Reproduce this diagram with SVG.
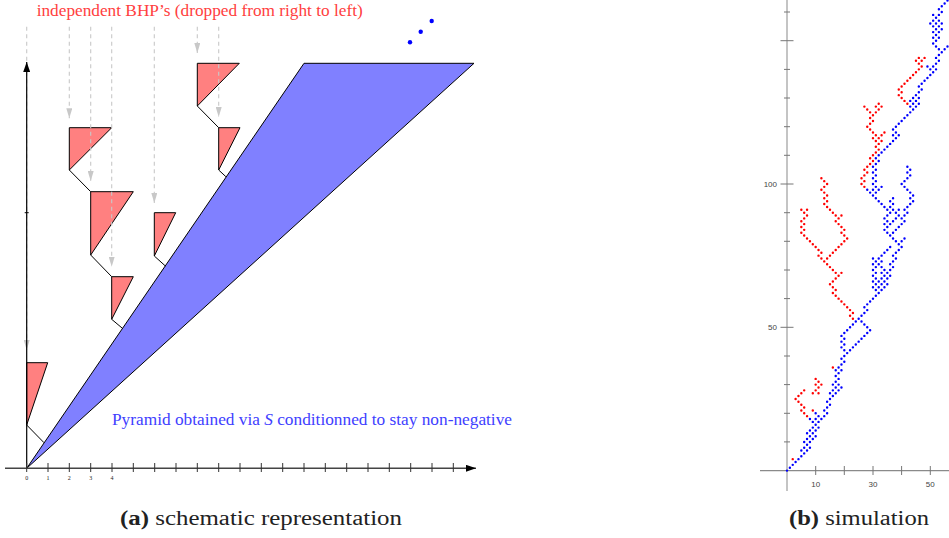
<svg xmlns="http://www.w3.org/2000/svg" width="949" height="538" viewBox="0 0 949 538">
<defs>
<style>
.tri{fill:#ff8080;stroke:#000;stroke-width:1;stroke-linejoin:round}
.pyr{fill:#8080ff;stroke:#000;stroke-width:1;stroke-linejoin:round}
.blk{stroke:#000;stroke-width:1;fill:none}
.dash{stroke:#c8c8c8;stroke-width:1.1;stroke-dasharray:4 3.5;fill:none}
.tick{stroke:#333;stroke-width:1}
.lbl{font-family:"Liberation Serif",serif;font-size:6px;fill:#222;text-anchor:middle}
.sl{font-family:"Liberation Sans","DejaVu Sans",sans-serif;font-size:8px;fill:#444}
.serif{font-family:"Liberation Serif","DejaVu Serif",serif}
.cap{font-family:"Liberation Serif","DejaVu Serif",serif;font-size:20px;fill:#222}
.dots{fill:none;stroke-linecap:round;stroke-width:0.85}
</style>
<marker id="garr" viewBox="0 0 10 10" refX="10" refY="5" markerUnits="userSpaceOnUse" markerWidth="10" markerHeight="6" orient="auto" preserveAspectRatio="none">
<path d="M0,0L10,5L0,10z" fill="#c8c8c8"/>
</marker>
<marker id="karr" viewBox="0 0 10 10" refX="10" refY="5" markerUnits="userSpaceOnUse" markerWidth="10" markerHeight="7" orient="auto" preserveAspectRatio="none">
<path d="M0,0L10,5L0,10z" fill="#000"/>
</marker>
</defs>
<rect width="949" height="538" fill="#fff"/>

<!-- (a) schematic -->
<g id="pyramid"><polygon class="pyr" points="26.7,468.3 304,63.3 474,63.3"/></g>
<g id="bhp1"><polygon class="tri" points="26.7,362.7 47.7,362.7 26.7,425"/></g>
<g id="bhp2"><polygon class="tri" points="69.3,127.7 111.7,127.7 69.3,170"/></g>
<g id="bhp3"><polygon class="tri" points="90.7,191.7 133.3,191.7 90.7,255"/></g>
<g id="bhp4"><polygon class="tri" points="111.7,276.7 133.3,276.7 111.7,319.3"/></g>
<g id="bhp5"><polygon class="tri" points="154.3,212.7 175.7,212.7 154.3,256"/></g>
<g id="bhp6"><polygon class="tri" points="197.3,63.3 239.3,63.3 197.3,106"/></g>
<g id="bhp7"><polygon class="tri" points="218.7,127.7 240,127.7 218.7,170"/></g>

<g id="connectors">
<path class="blk" d="M26.7,425L44,442.7M69.3,170L90.7,191.7M90.7,255L111.7,276.7M111.7,319.3L122.4,328.3M154.3,256L165.4,266M197.3,106L218.7,127.7M218.7,170L225.9,176.7"/>
<g class="dash" marker-end="url(#garr)">
<line x1="26.7" y1="26.7" x2="26.7" y2="350"/>
<line x1="69.3" y1="26.7" x2="69.3" y2="118.3"/>
<line x1="90.7" y1="26.7" x2="90.7" y2="181"/>
<line x1="111.7" y1="26.7" x2="111.7" y2="266.7"/>
<line x1="154.3" y1="26.7" x2="154.3" y2="203"/>
<line x1="197.3" y1="26.7" x2="197.3" y2="53"/>
<line x1="218.7" y1="26.7" x2="218.7" y2="117"/>
</g>
</g>

<g id="axes-a">
<line x1="26.7" y1="468.3" x2="26.7" y2="62" stroke="#000" stroke-width="1.2" marker-end="url(#karr)"/>
<line x1="24.7" y1="212.7" x2="28.7" y2="212.7" stroke="#000" stroke-width="1"/>
<line x1="5" y1="468.3" x2="476" y2="468.3" stroke="#444" stroke-width="1.4" marker-end="url(#karr)"/>
<path class="tick" d="M26.7,463v9M48,463v9M69.3,463v9M90.7,463v9M112,463v9M133.3,463v9M154.7,463v9M176,463v9M197.3,463v9M218.7,463v9M240,463v9M261.3,463v9M282.7,463v9M304,463v9M325.3,463v9M346.7,463v9M368,463v9M389.3,463v9M410.7,463v9M432,463v9M453.3,463v9"/>
<text class="lbl" x="26.7" y="480">0</text>
<text class="lbl" x="48" y="480">1</text>
<text class="lbl" x="69.3" y="480">2</text>
<text class="lbl" x="90.7" y="480">3</text>
<text class="lbl" x="112" y="480">4</text>
</g>

<g id="ellipsis" fill="#0000ff">
<circle cx="410" cy="42.3" r="2.2"/><circle cx="420.7" cy="31.7" r="2.2"/><circle cx="431.7" cy="21" r="2.2"/>
</g>

<text class="serif" x="36.7" y="16" font-size="16" fill="#ff4040" textLength="326" lengthAdjust="spacingAndGlyphs">independent BHP’s (dropped from right to left)</text>
<text class="serif" x="112" y="425" font-size="16" fill="#4040ff" textLength="400" lengthAdjust="spacingAndGlyphs">Pyramid obtained via <tspan font-style="italic">S</tspan> conditionned to stay non-negative</text>

<text class="cap" x="120" y="525" textLength="282" lengthAdjust="spacingAndGlyphs"><tspan font-weight="bold">(a)</tspan> schematic representation</text>

<!-- (b) simulation -->
<g id="axes-b">
<line x1="787" y1="0" x2="787" y2="491" stroke="#c4c4c4" stroke-width="2"/>
<line x1="760" y1="470.6" x2="949" y2="470.6" stroke="#8a8a8a" stroke-width="1.3"/>
<path stroke="#777" stroke-width="1" d="M784,441.9h6M784,413.3h6M784,384.6h6M784,356h6M780.5,327.3h13M784,298.6h6M784,270h6M784,241.3h6M784,212.7h6M780.5,184h13M784,155.3h6M784,126.7h6M784,98h6M784,69.4h6M780.5,40.7h13M784,12h6"/>
<path stroke="#777" stroke-width="1" d="M815.7,466v9M844.3,466v9M873,466v9M901.6,466v9M930.3,466v9"/>
<text class="sl" x="777" y="187" text-anchor="end">100</text>
<text class="sl" x="777" y="330" text-anchor="end">50</text>
<text class="sl" x="815.7" y="487" text-anchor="middle">10</text>
<text class="sl" x="873" y="487" text-anchor="middle">30</text>
<text class="sl" x="930.3" y="487" text-anchor="middle">50</text>
</g>

<g id="simulation" transform="translate(787,470.6) scale(2.866,-2.866)">
<path class="dots" stroke="#0000ff" d="M0 0h0M1 1h0M2 2h0M3 3h0M4 4h0M5 5h0M6 6h0M5 7h0M6 8h0M7 9h0M6 10h0M7 11h0M8 12h0M7 13h0M8 14h0M9 15h0M10 16h0M11 17h0M12 18h0M7 7h0M8 8h0M8 10h0M9 11h0M10 12h0M9 13h0M10 14h0M11 15h0M9 17h0M8 18h0M10 18h0M11 19h0M10 20h0
M13 19h0M14 20h0M13 21h0M14 22h0M15 23h0M14 24h0M15 25h0M16 26h0M15 27h0M16 28h0M17 29h0M16 30h0M17 31h0M18 32h0M17 33h0M18 34h0M19 35h0M18 36h0M19 37h0M20 38h0M19 39h0M20 40h0M21 41h0
M17 27h0M18 28h0M19 29h0M18 30h0M17 35h0
M20 42h0M19 43h0M20 44h0M19 45h0M20 46h0M19 47h0M20 48h0M21 49h0M22 50h0M23 51h0M24 52h0M25 53h0
M22 42h0M23 43h0M24 44h0M25 45h0M26 46h0M27 47h0M28 48h0M29 49h0M28 50h0M27 51h0M26 52h0
M26 54h0M27 55h0M28 56h0M27 57h0M28 58h0M29 59h0M30 60h0M31 61h0M32 62h0
M31 63h0M30 64h0M31 65h0M30 66h0M31 67h0M30 68h0M31 69h0M30 70h0M31 71h0M30 72h0M31 73h0M30 74h0
M33 63h0M32 64h0M33 65h0M32 66h0M33 67h0M34 68h0M33 69h0M34 70h0M33 71h0M32 72h0M33 73h0M32 74h0M33 75h0M34 76h0M35 77h0M36 78h0
M34 64h0M35 65h0M34 66h0M35 67h0M36 68h0M35 69h0M36 70h0M37 71h0M36 72h0M37 73h0
M38 74h0M37 75h0M38 76h0M39 77h0M40 78h0M39 79h0
M38 80h0M37 81h0M36 82h0M35 83h0M34 84h0M35 85h0M34 86h0M35 87h0M34 88h0M35 89h0M36 90h0
M35 91h0M34 92h0M33 93h0M32 94h0M31 95h0M30 96h0M29 97h0M28 98h0
M37 91h0M36 92h0M37 93h0M36 94h0M37 95h0
M36 86h0M37 87h0M38 88h0M39 89h0M38 90h0M39 91h0
M40 80h0M41 81h0
M37 83h0M38 84h0M39 85h0M40 86h0M41 87h0M40 88h0M41 89h0M42 90h0M41 91h0M42 92h0M43 93h0M44 94h0M43 95h0M44 96h0M43 97h0M42 98h0M41 99h0M40 100h0M41 101h0M42 102h0M43 103h0M42 104h0M43 105h0M42 106h0
M31 97h0M32 98h0M33 99h0
M30 98h0M31 99h0M30 100h0M31 101h0M30 102h0M31 103h0M30 104h0M31 105h0M30 106h0M31 107h0M32 108h0M31 109h0M32 110h0M33 111h0M34 112h0M35 113h0M36 114h0M37 115h0M38 116h0M39 117h0M37 117h0M38 118h0M37 119h0M38 120h0M39 121h0M40 122h0M41 123h0M42 124h0M43 125h0M44 126h0M45 127h0M43 127h0
M44 128h0M43 129h0M44 130h0M46 128h0M45 129h0M46 130h0M45 131h0M46 132h0M47 133h0M46 134h0M47 135h0M48 136h0M49 137h0M50 138h0M51 139h0M50 140h0M49 141h0
M52 140h0M51 141h0M52 142h0M53 143h0M52 144h0M53 145h0M54 146h0M53 147h0M52 148h0M51 149h0M52 150h0M51 151h0M52 152h0M51 153h0M52 154h0M51 155h0M52 156h0M53 157h0M52 158h0M53 159h0M54 160h0M53 161h0M54 162h0M55 163h0M56 164h0M57 165h0
M55 147h0M56 148h0M53 151h0M53 153h0M54 154h0M53 155h0M54 156h0M50 156h0M51 157h0M51 159h0"/>
<path class="dots" stroke="#ff0000" d="M2 4h0M16 36h0M9 21h0
M7 19h0M6 20h0M5 21h0M6 22h0M5 23h0M4 24h0M3 25h0M4 26h0M5 27h0M6 28h0
M9 27h0M11 27h0M10 28h0M11 29h0M10 30h0M12 30h0M11 31h0M10 32h0
M23 53h0M22 54h0M23 55h0M22 56h0M21 57h0M20 58h0M19 59h0M18 60h0M17 61h0M16 62h0M17 63h0M16 64h0M15 65h0M16 66h0M17 67h0M18 68h0M17 69h0M19 69h0M16 70h0M15 71h0M14 72h0M13 73h0M12 74h0M11 75h0M12 76h0M11 77h0M10 78h0M9 79h0M8 80h0M7 81h0M6 82h0M5 83h0M6 84h0M5 85h0M6 86h0M5 87h0M6 88h0M7 89h0M6 90h0M5 91h0M7 91h0
M14 74h0M15 75h0M16 76h0M17 77h0M18 78h0M19 79h0M20 80h0M21 81h0M20 82h0M19 83h0M20 84h0M19 85h0M18 86h0M17 87h0M18 88h0M17 89h0M19 89h0M16 90h0M15 91h0M14 92h0M13 93h0M14 94h0M13 95h0M14 96h0M13 97h0M12 98h0M13 99h0M14 100h0M13 101h0M12 102h0
M27 99h0M26 100h0M27 101h0M26 102h0M27 103h0M28 104h0M27 105h0M28 106h0M29 107h0M30 108h0M29 109h0M30 110h0M31 111h0M32 112h0M31 113h0M32 114h0M31 115h0M30 116h0M31 117h0M30 118h0M29 119h0M28 120h0M29 121h0M30 122h0M29 123h0M30 124h0M29 125h0M28 126h0M27 127h0M31 125h0M32 126h0M31 127h0M33 127h0M32 128h0M33 115h0M32 116h0M33 117h0M34 118h0
M42 128h0M41 129h0M40 130h0M39 131h0M40 132h0M39 133h0M40 134h0M41 135h0M42 136h0M43 137h0M44 138h0M45 139h0M46 140h0M47 141h0M46 142h0M45 143h0M47 143h0M46 144h0M48 144h0"/>
</g>

<text class="cap" x="789" y="525" textLength="140" lengthAdjust="spacingAndGlyphs"><tspan font-weight="bold">(b)</tspan> simulation</text>
</svg>
